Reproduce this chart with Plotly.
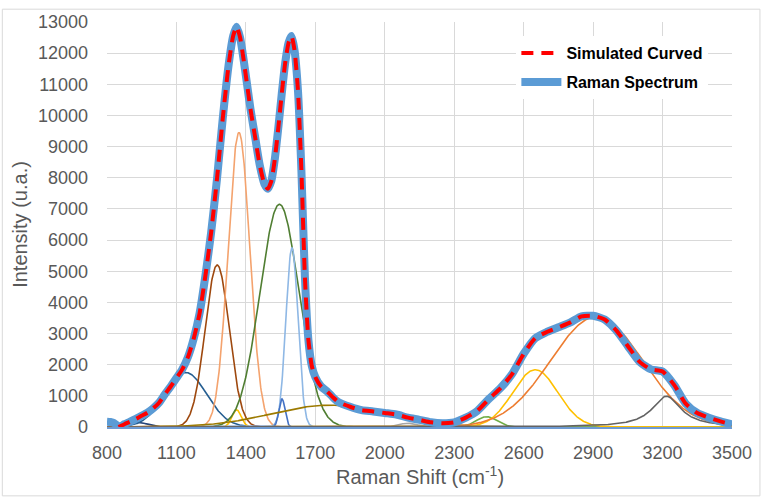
import numpy as np
import plotly.graph_objects as go

shift = [800, 815, 830, 845, 860, 875, 900, 925, 950, 975, 1000, 1025, 1050, 1075,
         1100, 1125, 1150, 1175, 1200, 1225, 1250, 1275, 1300, 1325, 1345, 1360,
         1375, 1390, 1405, 1420, 1440, 1460, 1480, 1495, 1510, 1525, 1540, 1555,
         1570, 1585, 1597, 1610, 1625, 1640, 1655, 1670, 1685, 1700, 1725, 1750,
         1775, 1800, 1850, 1900, 1950, 2000, 2050, 2100, 2150, 2200, 2250, 2300,
         2350, 2400, 2450, 2500, 2550, 2600, 2650, 2700, 2750, 2800, 2850, 2900,
         2950, 3000, 3050, 3100, 3150, 3200, 3250, 3300, 3350, 3400, 3450, 3500]
intensity = [170, 160, 130, 40, 30, 90, 170, 260, 360, 460, 600, 780, 1050, 1300,
             1570, 1850, 2250, 2850, 3650, 4850, 6250, 7950, 9900, 11600, 12550, 12850,
             12500, 11800, 11000, 10200, 9300, 8400, 7800, 7650, 7900, 8600, 9600, 10700,
             11700, 12350, 12550, 12100, 10800, 8200, 4800, 2800, 1950, 1600, 1300, 1150,
             960, 800, 650, 540, 500, 450, 400, 300, 230, 150, 120, 150,
             300, 520, 900, 1250, 1700, 2350, 2850, 3050, 3200, 3350, 3550, 3570,
             3450, 3100, 2600, 2100, 1850, 1780, 1350, 750, 450, 300, 180, 80]

# ---- Simulated (fitted) curve: starts at ~850 cm-1 ----
sim_shift = [850] + shift[5:]
sim_intensity = [0] + intensity[5:]

# ---- Fitted component peaks (centre, height, width) ----
peak_center = [930, 1140, 1276, 1370, 1360, 1545, 1599, 1556, 1760, 2100, 2440, 2650, 2915, 3217]
peak_height = [150, 1750, 5200, 9450, 550, 7150, 5750, 900, 700, 120, 330, 1840, 3540, 990]
peak_width = [45, 90, 52, 47, 20, 84, 26, 13, 250, 40, 45, 97, 198, 75]
peak_shape = ["g", "g", "g", "g", "g", "g", "g", "g", "g", "g", "g", "g", "g", "l"]
peak_color = ["#264478", "#255E91", "#9E480E", "#F4A36E", "#FFC000", "#507E32",
              "#8FB8E5", "#4472C4", "#9C7A00", "#A5A5A5", "#70AD47", "#FFC000",
              "#ED7D31", "#636363"]

xs = np.arange(800, 3501, 2)

fig = go.Figure()
for c, h, w, s, col in zip(peak_center, peak_height, peak_width, peak_shape, peak_color):
    if s == "g":
        ys = h * np.exp(-0.5 * ((xs - c) / w) ** 2)
    else:
        ys = h / (1 + ((xs - c) / w) ** 2)
    fig.add_trace(go.Scatter(x=xs, y=ys, mode="lines", line=dict(color=col, width=1.6),
                             showlegend=False, hoverinfo="skip"))

fig.add_trace(go.Scatter(x=shift, y=intensity, mode="lines", name="Raman Spectrum",
                         line=dict(color="#5B9BD5", width=8, shape="spline", smoothing=0.6),
                         legendrank=2, legendgroup="b"))
fig.add_trace(go.Scatter(x=sim_shift, y=sim_intensity, mode="lines", name="Simulated Curved",
                         line=dict(color="#FF0000", width=4, dash="12px,8px", shape="spline", smoothing=0.6),
                         legendrank=1, legendgroup="a"))

tick_font = dict(family="Liberation Sans, Arial, sans-serif", size=18, color="#595959")
title_font = dict(family="Liberation Sans, Arial, sans-serif", size=20, color="#595959")

fig.update_layout(
    width=764, height=499,
    margin=dict(l=107, r=30, t=15, b=72),
    paper_bgcolor="white", plot_bgcolor="white",
    xaxis=dict(range=[800, 3500], tickmode="linear", tick0=800, dtick=300,
               showgrid=True, gridcolor="#D9D9D9", gridwidth=1,
               showline=True, linecolor="#6E9BD3", linewidth=2,
               zeroline=False, tickfont=tick_font, ticks="", ticklabelstandoff=8),
    yaxis=dict(range=[0, 13000], tickmode="linear", tick0=0, dtick=1000, tickformat="d",
               showgrid=True, gridcolor="#D9D9D9", gridwidth=1,
               showline=False, zeroline=False, tickfont=tick_font, ticks="", ticklabelstandoff=18,
               title=dict(text="Intensity (u.a.)", font=title_font, standoff=4)),
    annotations=[dict(text="Raman Shift (cm<sup>-1</sup>)", xref="paper", yref="paper",
                      x=0.5, y=-0.12, xanchor="center", yanchor="middle",
                      showarrow=False, font=title_font)],
    legend=dict(x=0.655, y=0.965, xanchor="left", yanchor="top",
                bgcolor="white", borderwidth=0,
                font=dict(family="Liberation Sans, Arial, sans-serif", size=16, color="black", weight="bold"),
                traceorder="grouped", tracegroupgap=5, itemwidth=40),
    shapes=[dict(type="rect", xref="paper", yref="paper",
                 x0=-0.1675, x1=1.0447, y0=-0.17, y1=1.0316,
                 line=dict(color="#D9D9D9", width=1), fillcolor="rgba(0,0,0,0)", layer="below")],
    showlegend=True,
)

fig.write_html("out.html")
